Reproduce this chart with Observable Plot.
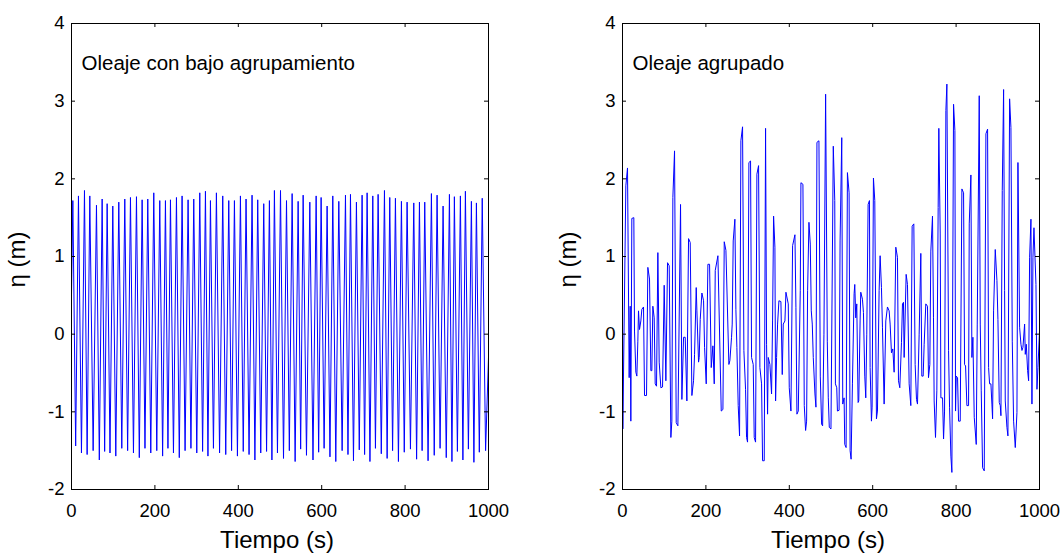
<!DOCTYPE html>
<html>
<head>
<meta charset="utf-8">
<script src="https://cdn.jsdelivr.net/npm/d3@7"></script>
<script src="https://cdn.jsdelivr.net/npm/@observablehq/plot@0.6"></script>
<style>
  html, body { margin: 0; padding: 0; background: #fff; }
  #chart { position: relative; width: 1063px; height: 556px; overflow: hidden; background: #fff; }
  #chart svg { position: absolute; top: 0; }
</style>
</head>
<body>
<div id="chart"></div>
<script>
// ---------- data ----------
const xTicks = [0, 200, 400, 600, 800, 1000];
const yTicks = [-2, -1, 0, 1, 2, 3, 4];
const panelLabels = ["Oleaje con bajo agrupamiento", "Oleaje agrupado"];
const xTitle = "Tiempo (s)";
const yTitle = "η (m)";

// Left panel: regular wave, crests and troughs
const leftEdgeT = [0, 1000];
const leftEdgeEta = [0.5, -0.3];
const leftCrestT = [3.2, 16.7, 31.1, 43.9, 59.9, 73.5, 85.5, 99.0, 113.4, 127.8, 141.4, 155.8, 169.4, 182.9, 197.3, 211.7, 225.3, 237.3,
  251.7, 265.2, 279.6, 293.2, 307.6, 321.2, 333.2, 347.5, 362.7, 377.1, 390.7, 405.1, 418.6, 433.0, 446.6, 461.0, 474.6, 486.6,
  501.2, 515.6, 529.1, 543.5, 555.5, 571.5, 586.7, 598.6, 613.0, 626.6, 641.0, 657.0, 669.0, 683.3, 696.9, 708.9, 722.5, 735.3,
  750.5, 763.2, 776.8, 791.2, 804.8, 820.8, 834.4, 847.1, 863.1, 876.7, 891.1, 906.3, 918.2, 932.6, 944.6, 959.0, 971.0, 985.0];
const leftCrestEta = [1.72, 1.78, 1.85, 1.78, 1.66, 1.74, 1.68, 1.65, 1.70, 1.74, 1.76, 1.77, 1.73, 1.74, 1.82, 1.72, 1.72, 1.73,
  1.76, 1.78, 1.73, 1.74, 1.82, 1.84, 1.72, 1.82, 1.78, 1.72, 1.72, 1.78, 1.74, 1.79, 1.73, 1.68, 1.72, 1.85,
  1.85, 1.72, 1.81, 1.71, 1.79, 1.70, 1.78, 1.76, 1.65, 1.78, 1.71, 1.79, 1.80, 1.70, 1.79, 1.82, 1.78, 1.80,
  1.85, 1.76, 1.75, 1.71, 1.70, 1.69, 1.70, 1.70, 1.81, 1.79, 1.65, 1.80, 1.77, 1.78, 1.84, 1.71, 1.69, 1.75];
const leftTroughT = [10.0, 23.9, 37.5, 51.9, 66.7, 79.5, 92.3, 106.2, 120.6, 134.6, 148.6, 162.6, 176.2, 190.1, 204.5, 218.5, 231.3, 244.5,
  258.5, 272.4, 286.4, 300.4, 314.4, 327.2, 340.4, 355.1, 369.9, 383.9, 397.9, 411.9, 425.8, 439.8, 453.8, 467.8, 480.6, 493.9,
  508.4, 522.4, 536.3, 549.5, 563.5, 579.1, 592.7, 605.8, 619.8, 633.8, 649.0, 663.0, 676.2, 690.1, 702.9, 715.7, 728.9, 742.9,
  756.9, 770.0, 784.0, 798.0, 812.8, 827.6, 840.8, 855.1, 869.9, 883.9, 898.7, 912.3, 925.4, 938.6, 951.8, 965.0, 978.0, 993.0];
const leftTroughEta = [-1.44, -1.53, -1.55, -1.50, -1.62, -1.51, -1.53, -1.57, -1.47, -1.50, -1.53, -1.59, -1.47, -1.53, -1.50, -1.57, -1.47, -1.53,
  -1.59, -1.50, -1.47, -1.53, -1.51, -1.57, -1.47, -1.53, -1.55, -1.50, -1.57, -1.51, -1.55, -1.62, -1.53, -1.51, -1.62, -1.53,
  -1.60, -1.50, -1.64, -1.48, -1.56, -1.62, -1.52, -1.47, -1.58, -1.64, -1.50, -1.55, -1.63, -1.49, -1.55, -1.64, -1.47, -1.54,
  -1.60, -1.50, -1.64, -1.52, -1.48, -1.61, -1.50, -1.63, -1.56, -1.47, -1.59, -1.64, -1.51, -1.62, -1.48, -1.65, -1.52, -1.50];

// Right panel: grouped waves, vertices (four stretches)
const rightT1 = [0, 0.8, 8, 12, 16, 18.4, 20, 22.4, 27.2, 28.8, 32, 34.4, 36.8, 38.4, 40.8, 44, 46.4, 50.4, 52.8, 57.6,
  60.8, 64.8, 68, 70.4, 72.8, 76, 78.4, 81.6, 84.8, 88, 92, 96, 100, 104, 108, 112, 116, 118.4, 120.8, 124.8,
  128.8, 132.8, 139.2, 142.4, 146.4, 150.4, 154.4, 158.4, 162.4, 166.4, 170.4, 172.8, 176.8, 178.4, 182.4, 184, 186.4, 190.4, 194.4, 196.8,
  200.8, 204.8, 208.8, 212.8, 216.8, 220, 222.4, 228.8, 236.8, 240.8, 244, 248];
const rightEta1 = [0.36, -1.22, 1.91, 2.14, -0.56, 0.36, -1.12, 1.49, 1.50, 0.04, -0.49, -0.54, -0.09, 0.30, 0.06, 0.17, 0.32, 0.35, -0.79, -0.79,
  0.86, 0.71, -0.47, -0.47, 0.36, 0.21, -0.64, -0.67, 1.05, -0.36, -0.69, -0.68, 0.63, -0.60, 0.92, 0.88, -1.33, -1.12, 1.76, 2.36,
  -1.14, -1.18, 1.67, -0.84, -0.04, -0.04, -0.86, 1.23, 1.18, -0.79, -0.60, -0.26, 0.60, 0.30, -0.36, -0.30, 0.19, 0.53, 0.43, -0.17,
  -0.64, 0.90, 0.90, -0.43, -0.15, -0.64, 0.82, 1.01, -0.99, -0.97, 1.19, 1.08];
const rightT2 = [255.1, 257.5, 261.5, 263.1, 265.5, 269.5, 271.9, 274.3, 277.5, 280.7, 283.9, 287.9, 291.1, 295.1, 297.5, 299.9, 303.1, 307.1, 309.5, 313.5,
  315.9, 319.1, 322.3, 326.3, 329.5, 333.5, 335.9, 339.9, 343.1, 345.5, 347.9, 349.5, 353.5, 357.5, 359.9, 362.3, 365.5, 367.1, 369.5, 371.9,
  375.1, 379.9, 383.1, 385.5, 389.5, 391.9, 397.5, 399.9, 403.9, 407.9, 413.5, 415.9, 418.3, 421.5, 426.3, 427.9, 432.7, 435.9, 439.1, 441.5,
  443.9, 447.1, 450.3, 452.7, 455.1, 457.5, 461.5, 463.9, 466.3, 471.1, 474.3, 477.5, 479.9, 483.1, 487.1, 491.1, 493.5, 495.9, 499.9, 505.5];
const rightEta2 = [-0.39, -0.34, -0.04, 0.13, 1.20, 1.48, 0.32, -0.17, -0.92, -1.31, 2.49, 2.67, -0.21, -0.71, -1.33, -1.39, 2.21, 2.23, -0.30, -0.39,
  -1.33, -1.39, 2.06, 2.17, -0.43, -0.64, -1.63, -1.63, 2.65, -0.13, -1.03, -0.30, -0.39, -0.77, 0.17, 1.52, 1.12, -0.86, -0.30, 0.13,
  0.43, 0.42, -0.52, 0.13, 0.17, 0.54, 0.39, -0.69, -0.99, 1.14, 1.28, 0.34, -1.03, -0.99, 0.56, 1.95, 1.93, -0.92, -1.24, -1.12,
  0.56, 1.44, 1.16, 0.30, 0.13, -0.30, -0.77, -0.94, 2.47, 2.49, -0.54, -1.16, -1.18, 0.0, 3.09, -0.09, -0.82, -1.20, -1.22, 2.42];
const rightT3 = [509.0, 510.6, 513.8, 515.4, 519.4, 521.8, 525.8, 528.2, 531.4, 533.0, 536.2, 539.4, 543.4, 545.8, 548.2, 551.4, 555.4, 557.0, 559.4, 561.8,
  565.0, 566.6, 569.8, 571.4, 575.4, 577.8, 581.0, 583.4, 585.8, 589.0, 592.2, 593.8, 597.0, 598.6, 601.8, 605.0, 609.0, 611.4, 615.4, 617.8,
  621.0, 623.4, 627.4, 631.4, 635.4, 639.4, 641.8, 645.0, 648.2, 651.4, 655.4, 659.4, 661.8, 665.0, 669.0, 671.4, 673.8, 675.4, 680.2, 683.4,
  687.4, 691.4, 694.6, 698.6, 701.8, 705.0, 707.4, 711.4, 715.4, 717.8, 721.0, 723.4, 727.4, 731.4, 733.8, 737.0, 739.4, 743.4, 745.8, 747.4,
  750.6, 753.8, 757.0, 758.6];
const rightEta3 = [1.72, -0.64, -0.69, -0.99, -0.98, 1.20, 2.53, -0.90, -0.82, -1.42, -1.46, 2.08, 1.82, -1.50, -1.61, -0.64, 0.52, 0.64, 0.21, 0.39,
  -0.88, -0.86, 0.17, 0.54, 0.45, 0.28, -0.54, -0.82, 0.0, 1.67, 1.72, -0.43, -1.12, -0.94, 2.01, 1.72, -1.09, -0.99, 0.56, 1.01,
  0.60, 0.09, -0.90, 0.17, 0.35, 0.30, 0.13, -0.24, -0.19, -0.49, 1.12, 0.99, -0.60, -0.69, -0.11, 0.39, 0.41, -0.30, 0.77, 0.64,
  -0.64, -0.92, 1.39, 1.42, -0.39, -0.84, -0.90, 0.0, 1.04, -0.54, -0.54, -0.13, 0.39, 0.36, -0.56, -0.39, 1.07, 1.52, 0.21, -0.86,
  -1.33, -0.73, 1.63, 2.65];
const rightT4 = [761.9, 763.5, 767.5, 769.9, 772.3, 775.5, 777.9, 781.9, 784.3, 787.5, 789.9, 793.9, 797.1, 798.7, 800.3, 803.5, 805.9, 809.9, 813.9, 817.9,
  820.3, 822.7, 825.9, 829.9, 831.5, 835.5, 837.9, 840.3, 843.5, 848.3, 850.7, 855.5, 857.9, 860.3, 863.5, 867.5, 871.5, 875.5, 877.9, 880.3,
  883.5, 885.9, 887.5, 889.9, 893.9, 897.9, 900.3, 903.5, 905.9, 907.5, 910.7, 913.9, 916.3, 917.9, 921.9, 924.3, 928.3, 931.5, 934.7, 937.9,
  941.9, 945.9, 948.3, 952.3, 955.5, 957.9, 960.3, 964.3, 965.9, 968.3, 971.5, 973.9, 976.3, 979.5, 981.9, 984.3, 986.7, 991.5, 993.9, 996.3,
  1000];
const rightEta4 = [1.29, -0.82, -0.82, -1.35, -0.99, 2.88, 3.22, -0.21, -0.94, -1.57, -1.78, 2.96, 2.62, -0.99, -0.54, -0.56, -1.12, -1.12, 1.87, 1.82,
  -0.39, -0.41, -0.92, -0.92, 1.42, 2.05, -0.30, -0.04, -1.07, -1.42, 0.13, 3.07, 0.13, -0.73, -1.72, -1.76, 2.58, 2.64, -0.43, -0.64,
  -0.64, -0.90, -1.09, 0.30, 1.09, 0.69, 0.19, -0.88, -0.92, -1.05, 1.85, 3.15, 0.56, -0.86, -1.20, -1.31, 3.03, 2.66, -0.09, -1.12,
  -1.46, -1.01, 2.21, 0.09, -0.13, -0.21, -0.17, 0.13, -0.26, -0.13, -0.47, -0.60, 0.99, 1.48, -0.90, 0.99, 1.37, 0.64, -0.71, -0.43,
  0.04];

// ---------- tables ----------
const leftData = [];
leftEdgeT.forEach((t, i) => leftData.push({t, eta: leftEdgeEta[i]}));
leftCrestT.forEach((t, i) => leftData.push({t, eta: leftCrestEta[i]}));
leftTroughT.forEach((t, i) => leftData.push({t, eta: leftTroughEta[i]}));
leftData.sort((a, b) => a.t - b.t);

const rightData = [];
[[rightT1, rightEta1], [rightT2, rightEta2], [rightT3, rightEta3], [rightT4, rightEta4]]
  .forEach(([T, E]) => T.forEach((t, i) => rightData.push({t, eta: E[i]})));
rightData.sort((a, b) => a.t - b.t);

// ---------- drawing ----------
const FONT = "'Liberation Sans', Arial, Helvetica, sans-serif";
const H = 556, MT = 23, MB = 67;
const FRAME_W = 417, FRAME_H = H - MT - MB;
const TICK = 4;

function panel(data, label, width, ml, mr) {
  return Plot.plot({
    width, height: H,
    marginLeft: ml, marginRight: mr, marginTop: MT, marginBottom: MB,
    style: {fontFamily: FONT, fontSize: "18.5px", color: "black", background: "white", overflow: "visible"},
    x: {domain: [0, 1000], ticks: xTicks, tickSize: 0, tickPadding: 14, tickFormat: d => String(d), label: null},
    y: {domain: [-2, 4], ticks: yTicks, tickSize: 0, tickPadding: 7, tickFormat: d => String(d), label: null},
    marks: [
      Plot.line(data, {x: "t", y: "eta", stroke: "#0000ff", strokeWidth: 1}),
      Plot.tickX(xTicks, {x: d => d, insetTop: FRAME_H - TICK, stroke: "black"}),
      Plot.tickX(xTicks, {x: d => d, insetBottom: FRAME_H - TICK, stroke: "black"}),
      Plot.tickY(yTicks, {y: d => d, insetRight: FRAME_W - TICK, stroke: "black"}),
      Plot.tickY(yTicks, {y: d => d, insetLeft: FRAME_W - TICK, stroke: "black"}),
      Plot.frame({stroke: "black", strokeWidth: 1}),
      Plot.text([label], {text: d => d, frameAnchor: "top-left", textAnchor: "start", lineAnchor: "middle", dx: 10, dy: 40, fontSize: 20.5, fill: "black"}),
      Plot.text([xTitle], {text: d => d, frameAnchor: "bottom", textAnchor: "middle", lineAnchor: "middle", dx: -3, dy: 51, fontSize: 24, fill: "black"}),
      Plot.text([yTitle], {text: d => d, frameAnchor: "left", textAnchor: "middle", lineAnchor: "middle", dx: -54, dy: 3, rotate: -90, fontSize: 24, fill: "black"})
    ]
  });
}

const chart = document.getElementById("chart");
const left = panel(leftData, panelLabels[0], 531, 71, 43);
left.style.left = "0px";
const right = panel(rightData, panelLabels[1], 532, 91, 24);
right.style.left = "531px";
chart.appendChild(left);
chart.appendChild(right);
</script>
</body>
</html>
